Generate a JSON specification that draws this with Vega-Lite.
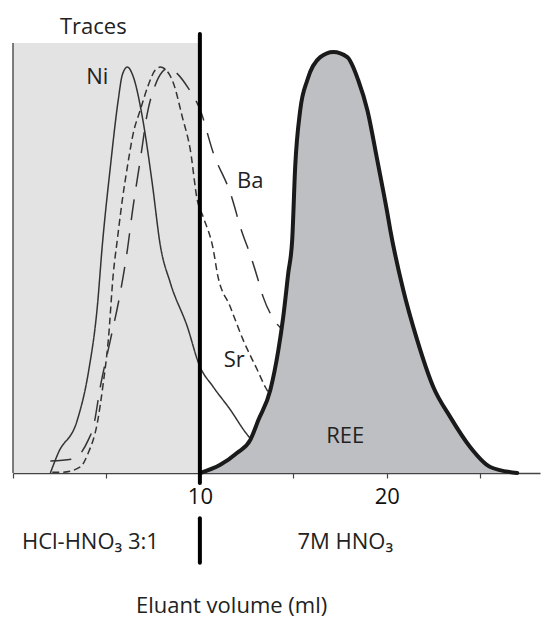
{
  "$schema": "https://vega.github.io/schema/vega-lite/v6.json",
  "width": 527,
  "height": 430,
  "autosize": "none",
  "padding": {"left": 13, "top": 43, "right": 1, "bottom": 147},
  "background": "white",
  "config": {"view": {"stroke": null}, "font": "Open Sans"},
  "datasets": {
    "box": [{"x": 0, "x2": 10, "y": 0, "y2": 100}],
    "traces": [
      {"series": "Ni", "x": 2.0, "y": 0},
      {"series": "Ni", "x": 2.42, "y": 4.65},
      {"series": "Ni", "x": 3.44, "y": 12.3},
      {"series": "Ni", "x": 4.03, "y": 23.3},
      {"series": "Ni", "x": 4.51, "y": 38.6},
      {"series": "Ni", "x": 4.78, "y": 53.0},
      {"series": "Ni", "x": 5.21, "y": 71.2},
      {"series": "Ni", "x": 5.63, "y": 86.7},
      {"series": "Ni", "x": 5.85, "y": 92.6},
      {"series": "Ni", "x": 6.12, "y": 94.4},
      {"series": "Ni", "x": 6.44, "y": 92.1},
      {"series": "Ni", "x": 6.92, "y": 82.8},
      {"series": "Ni", "x": 7.45, "y": 67.4},
      {"series": "Ni", "x": 7.88, "y": 53.0},
      {"series": "Ni", "x": 8.42, "y": 44.2},
      {"series": "Ni", "x": 9.33, "y": 34.0},
      {"series": "Ni", "x": 9.97, "y": 25.1},
      {"series": "Ni", "x": 10.72, "y": 20.0},
      {"series": "Ni", "x": 11.63, "y": 14.7},
      {"series": "Ni", "x": 12.43, "y": 9.5},
      {"series": "Ni", "x": 12.8, "y": 7.5},
      {"series": "Sr", "x": 2.1, "y": 0.2},
      {"series": "Sr", "x": 2.69, "y": 0.2},
      {"series": "Sr", "x": 3.6, "y": 1.4},
      {"series": "Sr", "x": 4.03, "y": 4.7},
      {"series": "Sr", "x": 4.51, "y": 11.6},
      {"series": "Sr", "x": 4.83, "y": 20.9},
      {"series": "Sr", "x": 5.1, "y": 30.9},
      {"series": "Sr", "x": 5.37, "y": 46.5},
      {"series": "Sr", "x": 5.58, "y": 54.2},
      {"series": "Sr", "x": 5.85, "y": 63.5},
      {"series": "Sr", "x": 6.12, "y": 71.2},
      {"series": "Sr", "x": 6.44, "y": 79.1},
      {"series": "Sr", "x": 6.81, "y": 84.4},
      {"series": "Sr", "x": 7.24, "y": 90.2},
      {"series": "Sr", "x": 7.61, "y": 93.7},
      {"series": "Sr", "x": 7.88, "y": 94.4},
      {"series": "Sr", "x": 8.2, "y": 93.7},
      {"series": "Sr", "x": 8.58, "y": 90.7},
      {"series": "Sr", "x": 9.06, "y": 82.8},
      {"series": "Sr", "x": 9.49, "y": 75.1},
      {"series": "Sr", "x": 9.86, "y": 63.5},
      {"series": "Sr", "x": 10.18, "y": 59.5},
      {"series": "Sr", "x": 10.72, "y": 51.9},
      {"series": "Sr", "x": 10.93, "y": 46.5},
      {"series": "Sr", "x": 11.63, "y": 38.6},
      {"series": "Sr", "x": 12.32, "y": 30.9},
      {"series": "Sr", "x": 13.07, "y": 24.0},
      {"series": "Sr", "x": 13.5, "y": 20.0},
      {"series": "Sr", "x": 13.7, "y": 18.5},
      {"series": "Ba", "x": 2.0, "y": 2.8},
      {"series": "Ba", "x": 3.23, "y": 3.3},
      {"series": "Ba", "x": 4.03, "y": 7.7},
      {"series": "Ba", "x": 4.3, "y": 10.7},
      {"series": "Ba", "x": 4.67, "y": 20.0},
      {"series": "Ba", "x": 5.21, "y": 30.9},
      {"series": "Ba", "x": 5.74, "y": 41.9},
      {"series": "Ba", "x": 6.12, "y": 51.9},
      {"series": "Ba", "x": 6.38, "y": 60.5},
      {"series": "Ba", "x": 6.81, "y": 72.8},
      {"series": "Ba", "x": 7.19, "y": 83.7},
      {"series": "Ba", "x": 7.61, "y": 90.2},
      {"series": "Ba", "x": 7.99, "y": 93.3},
      {"series": "Ba", "x": 8.31, "y": 94.2},
      {"series": "Ba", "x": 8.68, "y": 93.3},
      {"series": "Ba", "x": 9.38, "y": 89.5},
      {"series": "Ba", "x": 10.02, "y": 84.4},
      {"series": "Ba", "x": 10.72, "y": 74.4},
      {"series": "Ba", "x": 11.63, "y": 65.1},
      {"series": "Ba", "x": 12.27, "y": 55.8},
      {"series": "Ba", "x": 12.7, "y": 50.7},
      {"series": "Ba", "x": 13.07, "y": 45.6},
      {"series": "Ba", "x": 13.39, "y": 40.9},
      {"series": "Ba", "x": 13.87, "y": 36.3},
      {"series": "Ba", "x": 14.5, "y": 33.0}
    ],
    "ree": [
      {"x": 10.02, "y": 0},
      {"x": 11.09, "y": 1.9},
      {"x": 12.0, "y": 4.7},
      {"x": 12.7, "y": 7.7},
      {"x": 13.13, "y": 12.3},
      {"x": 13.77, "y": 19.3},
      {"x": 14.2, "y": 28.6},
      {"x": 14.46, "y": 36.3},
      {"x": 14.73, "y": 46.5},
      {"x": 14.94, "y": 54.2},
      {"x": 15.1, "y": 71.2},
      {"x": 15.37, "y": 84.4},
      {"x": 15.75, "y": 91.4},
      {"x": 16.44, "y": 96.7},
      {"x": 17.14, "y": 97.9},
      {"x": 17.89, "y": 96.7},
      {"x": 18.47, "y": 91.4},
      {"x": 18.96, "y": 84.4},
      {"x": 19.49, "y": 72.8},
      {"x": 20.03, "y": 60.5},
      {"x": 20.19, "y": 56.5},
      {"x": 20.88, "y": 42.6},
      {"x": 21.63, "y": 30.9},
      {"x": 22.49, "y": 20.0},
      {"x": 23.4, "y": 13.0},
      {"x": 24.47, "y": 6.0},
      {"x": 25.54, "y": 1.4},
      {"x": 26.98, "y": 0}
    ],
    "rules": [
      {"x": 10, "y": -2.3, "y2": 102.1},
      {"x": 10, "y": -10.5, "y2": -20.9}
    ],
    "labels": [
      {"label": "Traces", "x": 4.3, "y": 103.7},
      {"label": "Ni", "x": 4.51, "y": 92.1},
      {"label": "Ba", "x": 12.7, "y": 67.9},
      {"label": "Sr", "x": 11.84, "y": 26.3},
      {"label": "REE", "x": 17.78, "y": 8.6},
      {"label": "HCl-HNO₃ 3:1", "x": 4.14, "y": -16.0},
      {"label": "7M HNO₃", "x": 17.78, "y": -16.0},
      {"label": "Eluant volume (ml)", "x": 11.7, "y": -30.9}
    ]
  },
  "layer": [
    {
      "data": {"name": "box"},
      "mark": {"type": "rect", "color": "#e3e3e3"},
      "encoding": {
        "x": {"field": "x", "type": "quantitative", "scale": {"domain": [0, 28.2], "nice": false, "zero": false},
          "axis": {"values": [0, 5, 10, 15, 20, 25], "labelExpr": "datum.value == 10 || datum.value == 20 ? datum.label : ''",
            "tickSize": 5, "tickColor": "#444", "tickWidth": 1.2, "domainColor": "#444", "domainWidth": 1.5,
            "labelFontSize": 22, "labelColor": "#111", "labelPadding": 8, "title": null, "grid": false, "labelFont": "Open Sans"}},
        "x2": {"field": "x2"},
        "y": {"field": "y", "type": "quantitative", "scale": {"domain": [0, 100], "nice": false, "zero": false}, "axis": null},
        "y2": {"field": "y2"}
      }
    },
    {
      "data": {"name": "box"},
      "mark": {"type": "rule", "color": "#555", "strokeWidth": 1.5},
      "encoding": {
        "x": {"field": "x", "type": "quantitative", "scale": {"domain": [0, 28.2], "nice": false, "zero": false}},
        "y": {"field": "y", "type": "quantitative", "scale": {"domain": [0, 100], "nice": false, "zero": false}},
        "y2": {"field": "y2"}
      }
    },
    {
      "data": {"name": "traces"},
      "mark": {"type": "line", "color": "#333", "strokeWidth": 1.5, "interpolate": "monotone"},
      "encoding": {
        "x": {"field": "x", "type": "quantitative", "scale": {"domain": [0, 28.2], "nice": false, "zero": false}},
        "y": {"field": "y", "type": "quantitative", "scale": {"domain": [0, 100], "nice": false, "zero": false}},
        "strokeDash": {"field": "series", "type": "nominal", "scale": {"domain": ["Ni", "Sr", "Ba"], "range": [[1, 0], [7, 4], [21, 13]]}, "legend": null},
        "detail": {"field": "series"}
      }
    },
    {
      "data": {"name": "ree"},
      "mark": {"type": "area", "color": "#bebfc2", "interpolate": "monotone"},
      "encoding": {
        "x": {"field": "x", "type": "quantitative", "scale": {"domain": [0, 28.2], "nice": false, "zero": false}},
        "y": {"field": "y", "type": "quantitative", "scale": {"domain": [0, 100], "nice": false, "zero": false}}
      }
    },
    {
      "data": {"name": "ree"},
      "mark": {"type": "line", "color": "#1a1a1a", "strokeWidth": 4, "interpolate": "monotone", "strokeCap": "round"},
      "encoding": {
        "x": {"field": "x", "type": "quantitative", "scale": {"domain": [0, 28.2], "nice": false, "zero": false}},
        "y": {"field": "y", "type": "quantitative", "scale": {"domain": [0, 100], "nice": false, "zero": false}}
      }
    },
    {
      "data": {"name": "rules"},
      "mark": {"type": "rule", "color": "#000", "strokeWidth": 4, "strokeCap": "round"},
      "encoding": {
        "x": {"field": "x", "type": "quantitative", "scale": {"domain": [0, 28.2], "nice": false, "zero": false}},
        "y": {"field": "y", "type": "quantitative", "scale": {"domain": [0, 100], "nice": false, "zero": false}},
        "y2": {"field": "y2"}
      }
    },
    {
      "data": {"name": "labels"},
      "mark": {"type": "text", "fontSize": 22, "color": "#222", "align": "center", "baseline": "middle", "font": "Open Sans"},
      "encoding": {
        "x": {"field": "x", "type": "quantitative", "scale": {"domain": [0, 28.2], "nice": false, "zero": false}},
        "y": {"field": "y", "type": "quantitative", "scale": {"domain": [0, 100], "nice": false, "zero": false}},
        "text": {"field": "label"}
      }
    }
  ]
}
